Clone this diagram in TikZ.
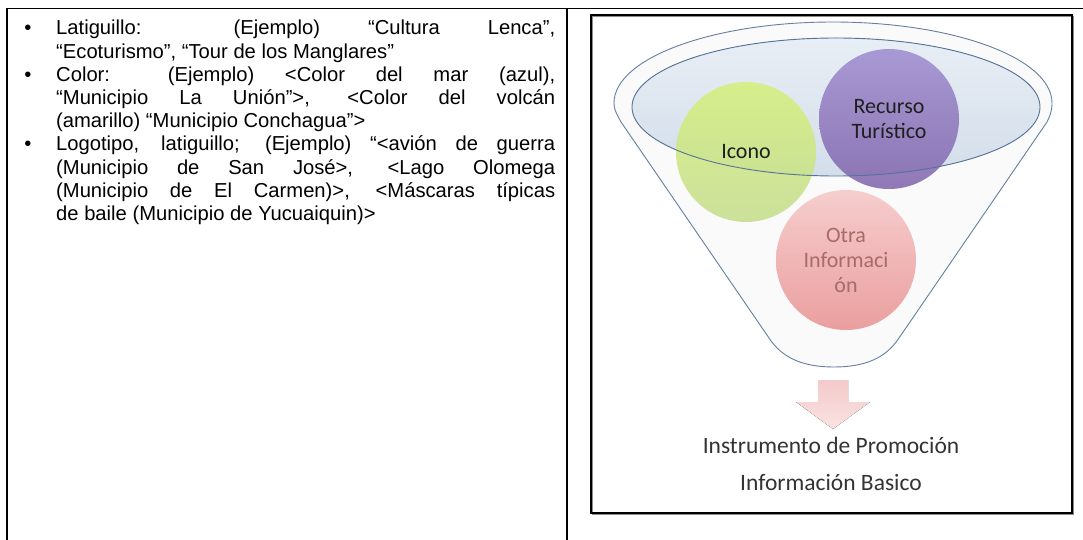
\documentclass[tikz,border=0pt]{standalone}
\usepackage{fontspec}
\setmainfont{Liberation Sans}
\newfontfamily\calib{Carlito}
\definecolor{funnelc}{HTML}{6580A2}
\definecolor{ellline}{HTML}{56739A}
\definecolor{elltop}{HTML}{E8EEF5}
\definecolor{ellbot}{HTML}{D3DEEA}
\definecolor{grtop}{HTML}{D6F07A}
\definecolor{grbot}{HTML}{C4DC8A}
\definecolor{putop}{HTML}{9E8BCF}
\definecolor{pubot}{HTML}{7E62AA}
\definecolor{pitop}{HTML}{F6C6C6}
\definecolor{pibot}{HTML}{E88F8F}
\definecolor{pitext}{HTML}{A86A6A}
\definecolor{artop}{HTML}{F4CACA}
\definecolor{arbot}{HTML}{FAE2E2}
\tikzset{
  tline/.style={line width=1.8pt, black},
  ltxt/.style={anchor=base west, inner sep=0pt, font=\fontsize{20.2}{23}\selectfont},
  bul/.style={anchor=base, inner sep=0pt, font=\fontsize{20.2}{23}\selectfont},
  ball/.style={circle, minimum size=140pt, inner sep=0pt, fill opacity=0.85, text opacity=1,
     align=center, font=\calib\fontsize{22}{25}\selectfont, text=black!88},
  btxt/.style={inner sep=0pt, font=\calib\fontsize{23.5}{26}\selectfont, text=black!80},
}
\begin{document}
\begin{tikzpicture}[x=1pt,y=-1pt]
\useasboundingbox (0,0) rectangle (1083,540);
\fill[white] (0,0) rectangle (1083,540);
% table rules
\draw[tline] (7,540) -- (7,8.5) -- (1083,8.5);
\draw[tline] (567,8.5) -- (567,540);
% left column text
\node[bul] (b1) at (28,35) {•};
\node[bul] (b2) at (28,81.4) {•};
\node[bul] (b3) at (28,151) {•};
\node[ltxt] (l1) at (56,35) {\makebox[499pt][s]{Latiguillo: (Ejemplo) “Cultura Lenca”,}};
\node[ltxt] (l2) at (56,58.2) {“Ecoturismo”, “Tour de los Manglares”};
\node[ltxt] (l3) at (56,81.4) {\makebox[499pt][s]{Color: (Ejemplo) <Color del mar (azul),}};
\node[ltxt] (l4) at (56,104.6) {\makebox[499pt][s]{“Municipio La Unión”>, <Color del volcán}};
\node[ltxt] (l5) at (56,127.8) {(amarillo) “Municipio Conchagua”>};
\node[ltxt] (l6) at (56,151) {\makebox[499pt][s]{Logotipo, latiguillo; (Ejemplo) “<avión de guerra}};
\node[ltxt] (l7) at (56,174.2) {\makebox[499pt][s]{(Municipio de San José>, <Lago Olomega}};
\node[ltxt] (l8) at (56,197.4) {\makebox[499pt][s]{(Municipio de El Carmen)>, <Máscaras típicas}};
\node[ltxt] (l9) at (56,220.6) {de baile (Municipio de Yucuaiquin)>};
% picture frame
\draw[black!45, line width=1.2pt] (592.5,16.5) rectangle (1073.5,514.5);
\draw[black, line width=1.3pt] (591,15) rectangle (1072,513);
% funnel body
\draw[funnelc, line width=0.9pt, fill=black!2] (614,103)
  arc[start angle=180, end angle=360, x radius=219, y radius=81]
  .. controls (1052,111) and (1050,116) .. (1047,122)
  -- (899,338)
  .. controls (886,358) and (865,367) .. (834,367)
  .. controls (803,367) and (782,358) .. (769,338)
  -- (621,122)
  .. controls (618,116) and (614,111) .. (614,103) -- cycle;
% inner opening
\fill[top color=elltop, bottom color=ellbot] (836,107) ellipse[x radius=204, y radius=69];
% circles
\node[ball, top color=grtop, bottom color=grbot] (ico) at (746,152) {Icono};
\node[ball, top color=putop, bottom color=pubot] (rec) at (889,119) {Recurso\\Turístico};
\node[ball, top color=pitop, bottom color=pibot, text=pitext] (otr) at (846,260) {Otra\\Informaci\\ón};
\draw[ellline, line width=0.9pt] (836,107) ellipse[x radius=204, y radius=69];
% arrow
\fill[top color=artop, bottom color=arbot] (818,380) -- (848,380) -- (848,402) -- (870,402)
  -- (833,429) -- (796,402) -- (818,402) -- cycle;
% result text
\node[btxt] (r1) at (831,445) {Instrumento de Promoción};
\node[btxt] (r2) at (831,482) {Información Basico};
\end{tikzpicture}
\end{document}
